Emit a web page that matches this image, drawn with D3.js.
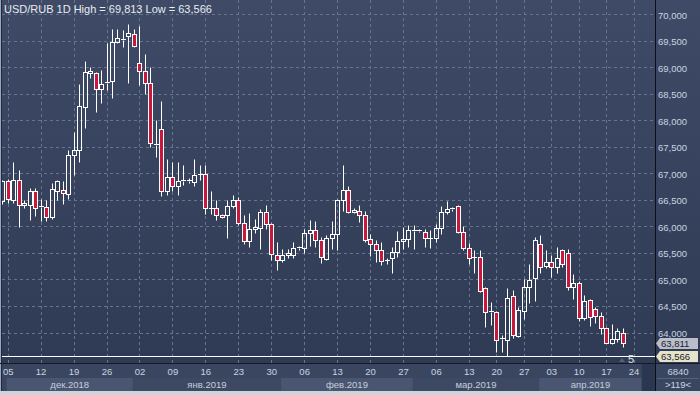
<!DOCTYPE html>
<html><head><meta charset="utf-8">
<script src="https://cdn.jsdelivr.net/npm/d3@7"></script>
<style>html,body{margin:0;padding:0;background:#3a4660;}svg{display:block;}</style>
</head><body>
<svg id="c" width="700" height="395"></svg>
<script>
// ---- data ----
const opens  = [66.48,66.85,66.50,66.87,66.40,66.40,66.66,66.36,66.36,66.18,66.66,66.68,66.61,67.35,67.44,68.26,68.89,68.89,68.59,68.70,68.75,69.47,69.52,69.60,69.63,69.09,68.93,68.70,67.55,67.84,66.66,66.93,66.76,66.85,66.86,66.83,66.98,66.98,66.34,66.34,66.21,66.22,66.39,66.50,66.06,65.73,65.96,65.97,66.27,66.04,65.47,65.37,65.46,65.47,65.60,65.60,65.87,65.93,65.74,65.38,65.79,65.85,66.50,66.69,66.27,66.30,66.22,65.76,65.66,65.55,65.36,65.40,65.52,65.72,65.76,65.92,65.92,65.89,65.78,65.78,65.97,66.28,66.33,66.39,65.90,65.59,65.42,65.43,64.83,64.39,64.38,63.88,63.86,64.69,63.93,64.41,64.85,65.02,65.67,65.26,65.32,65.24,65.56,65.49,64.85,64.93,64.27,64.61,64.44,64.31,64.08,63.81,63.87,64.00];
const highs  = [66.88,66.89,67.22,67.06,66.50,66.72,66.72,66.52,66.50,66.81,66.88,66.86,67.44,67.78,68.68,69.12,69.00,68.91,68.95,69.46,69.72,69.72,69.70,69.813,69.72,69.78,69.26,69.01,68.01,68.37,67.27,67.21,67.22,67.16,66.92,67.28,67.16,67.16,66.66,66.50,66.24,66.49,66.60,66.55,66.21,66.25,66.14,66.33,66.40,66.06,65.71,65.57,65.57,65.70,65.64,65.95,66.13,66.11,65.80,65.84,66.11,66.52,67.16,66.76,66.35,66.40,66.30,65.86,65.74,65.70,65.41,65.62,65.92,65.98,66.02,66.02,65.95,65.96,65.93,66.04,66.38,66.48,66.37,66.40,66.00,65.69,65.55,65.56,64.85,64.58,64.40,63.95,64.83,64.80,64.48,65.00,65.29,65.80,65.84,65.56,65.46,65.61,65.57,65.57,65.10,64.98,64.71,64.64,64.49,64.39,64.11,64.16,64.08,64.08];
const lows   = [66.42,66.45,66.45,65.98,66.35,66.12,66.20,66.10,66.10,66.14,66.50,66.42,66.52,66.97,67.22,67.85,68.79,68.16,68.32,68.57,68.42,69.45,69.39,68.70,69.39,68.67,68.50,67.49,67.30,66.58,66.59,66.66,66.59,66.78,66.81,66.76,66.87,66.23,66.24,66.12,66.15,65.78,66.34,66.03,65.67,65.62,65.87,65.58,65.96,65.37,65.18,65.33,65.41,65.40,65.55,65.50,65.64,65.62,65.31,65.36,65.57,65.56,66.30,66.26,66.26,66.08,65.71,65.45,65.33,65.28,65.30,65.13,65.42,65.58,65.61,65.58,65.89,65.61,65.60,65.71,65.85,66.23,66.30,65.88,65.55,65.30,65.13,64.77,64.11,64.15,63.64,63.64,63.566,63.89,63.92,64.25,64.56,64.60,65.13,65.21,65.04,65.12,65.23,64.81,64.63,64.22,64.24,64.13,64.17,63.97,63.80,63.78,63.83,63.73];
const closes = [66.86,66.51,66.87,66.40,66.44,66.67,66.35,66.38,66.18,66.70,66.85,66.63,67.35,67.44,68.27,68.91,68.93,68.60,68.68,68.72,69.47,69.55,69.54,69.64,69.41,68.94,68.70,67.57,67.53,66.66,66.93,66.76,66.86,66.87,66.87,66.97,66.99,66.34,66.35,66.22,66.18,66.39,66.50,66.06,65.73,65.96,65.99,66.27,66.04,65.48,65.37,65.46,65.49,65.59,65.61,65.87,65.93,65.74,65.42,65.79,65.85,66.50,66.69,66.28,66.31,66.21,65.74,65.66,65.55,65.35,65.37,65.52,65.72,65.76,65.93,65.94,65.93,65.78,65.79,65.97,66.28,66.33,66.34,65.90,65.60,65.40,65.43,64.79,64.39,64.40,63.85,63.89,64.65,63.95,64.42,64.85,64.99,65.74,65.23,65.32,65.23,65.40,65.29,64.85,64.93,64.27,64.60,64.29,64.31,64.08,63.81,63.87,64.02,63.811];

const dateLabels = ["05","12","19","26","02","09","16","23","30","06","13","20","27","06","13","20","27","03","10","17","24"];
const dateIndex  = [1,7,13,19,25,31,37,43,49,55,61,67,73,79,85,90,95,100,105,110,115];
const monthLabels = ["дек.2018","янв.2019","фев.2019","мар.2019","апр.2019"];
const monthStart  = [0.8,23.8,50.8,74.8,97.8];
const monthEnd    = 116.5;
const yTicks = [64,64.5,65,65.5,66,66.5,67,67.5,68,68.5,69,69.5,70];
const title = "USD/RUB 1D High = 69,813 Low = 63,566";
const highVal = 69.813, lowVal = 63.566, lastVal = 63.811;
const barCount = "6840", visibleBars = ">119<", markerText = "5";

// ---- layout ----
const W = 700, H = 395;
const plotL = 2, plotR = 655, plotB = 363;
const svg = d3.select("#c");
const x = d3.scaleLinear().domain([0, 113]).range([2.2, 2.2 + 113 * 5.49]);
const y = d3.scaleLinear().domain([64, 70]).range([332.5, 14.3]);
const fmt = v => d3.format(".3f")(v).replace(".", ",");
const font = "'Liberation Sans', Arial, sans-serif";

const defs = svg.append("defs");
const g1 = defs.append("linearGradient").attr("id","bg").attr("x1",0).attr("y1",0).attr("x2",0).attr("y2",1);
g1.append("stop").attr("offset","0%").attr("stop-color","#3f4b66");
g1.append("stop").attr("offset","100%").attr("stop-color","#2f3b55");
defs.append("clipPath").attr("id","pc").append("rect").attr("x",plotL).attr("y",0).attr("width",plotR-plotL).attr("height",plotB);

svg.append("rect").attr("width",W).attr("height",H).attr("fill","#3a4660");
svg.append("rect").attr("x",plotL).attr("y",0).attr("width",plotR-plotL).attr("height",plotB).attr("fill","url(#bg)");
svg.append("rect").attr("x",plotR+1).attr("y",0).attr("width",W-plotR-1).attr("height",plotB).attr("fill","url(#bg)");
// left border
svg.append("rect").attr("x",0).attr("y",0).attr("width",1).attr("height",391).attr("fill","#9aa7bb");
svg.append("rect").attr("x",1).attr("y",0).attr("width",1).attr("height",391).attr("fill","#1f2840");

const plot = svg.append("g").attr("clip-path","url(#pc)");
// grid
plot.selectAll("line.hg").data(yTicks).join("line")
  .attr("x1",plotL).attr("x2",plotR)
  .attr("y1",d=>Math.round(y(d))+0.5).attr("y2",d=>Math.round(y(d))+0.5)
  .attr("stroke","#66748f").attr("stroke-dasharray","3,3");
plot.selectAll("line.vg").data(dateIndex).join("line")
  .attr("x1",d=>Math.round(x(d))+0.5).attr("x2",d=>Math.round(x(d))+0.5)
  .attr("y1",0).attr("y2",plotB)
  .attr("stroke","#66748f").attr("stroke-dasharray","3,3");

// low line
plot.append("line").attr("x1",0).attr("x2",plotR)
  .attr("y1",Math.round(y(lowVal))+0.5).attr("y2",Math.round(y(lowVal))+0.5)
  .attr("stroke","#ffffff");

// candles
const candles = opens.map((o,i)=>({i,o,h:highs[i],l:lows[i],c:closes[i]}));
const cg = plot.append("g");
candles.forEach(d=>{
  const cx = Math.round(x(d.i));
  const top = Math.round(y(Math.max(d.o,d.c)))+0.5;
  const bot = Math.round(y(Math.min(d.o,d.c)))+0.5;
  const yh = Math.round(y(d.h))+0.5, yl = Math.round(y(d.l))+0.5;
  const wx = cx+0.5;
  if (yh < top) cg.append("line").attr("x1",wx).attr("x2",wx).attr("y1",yh).attr("y2",top).attr("stroke","#fff");
  if (yl > bot) cg.append("line").attr("x1",wx).attr("x2",wx).attr("y1",bot).attr("y2",yl).attr("stroke","#fff");
  if (bot - top < 1.5) {
    cg.append("line").attr("x1",cx-2).attr("x2",cx+3).attr("y1",top).attr("y2",top).attr("stroke","#fff");
  } else {
    cg.append("rect").attr("x",cx-1.5).attr("y",top).attr("width",4).attr("height",bot-top)
      .attr("fill", d.c < d.o ? "#c8193c" : "none").attr("stroke","#fff");
  }
});

// title
svg.append("text").attr("x",4).attr("y",12.5).text(title)
  .attr("font-family",font).attr("font-size",11).attr("fill","#e8ecf2");

// marker
svg.append("path").attr("d","M619,362 L622,358 L625,362 Z").attr("fill","#56627a");
svg.append("text").attr("x",631).attr("y",363).attr("text-anchor","middle").text(markerText)
  .attr("font-family",font).attr("font-size",11).attr("fill","#dde4ee");

// right axis
svg.append("line").attr("x1",plotR+0.5).attr("x2",plotR+0.5).attr("y1",0).attr("y2",H).attr("stroke","#0c0f18");
svg.selectAll("text.yl").data(yTicks.filter(v=>v>=64)).join("text")
  .attr("x",658).attr("y",d=>y(d)+4.5).text(fmt)
  .attr("font-family",font).attr("font-size",9.5).attr("fill","#c9d3e2");
// tags
function tag(v, fill){
  const cy = Math.round(y(v));
  svg.append("path").attr("d",`M656,${cy+0.5} L660,${cy-5} L698,${cy-5} L698,${cy+6} L660,${cy+6} Z`)
    .attr("fill",fill);
  svg.append("text").attr("x",661).attr("y",cy+4).text(fmt(v))
    .attr("font-family",font).attr("font-size",9.5).attr("fill","#1c2232");
}
tag(lastVal,"#b9bec8");
tag(lowVal,"#e5e3c9");

// bottom axis area
svg.append("line").attr("x1",0).attr("x2",W).attr("y1",plotB+0.5).attr("y2",plotB+0.5).attr("stroke","#141a28");
svg.append("rect").attr("x",2).attr("y",364).attr("width",plotR-2).attr("height",27).attr("fill","#3a4660");
monthLabels.forEach((m,k)=>{
  const a = x(monthStart[k]), b = x(k+1<monthStart.length?monthStart[k+1]:monthEnd);
  svg.append("rect").attr("x",a).attr("y",378).attr("width",b-a).attr("height",13)
    .attr("fill", k%2===0 ? "#4a5671" : "#3d4963");
  svg.append("text").attr("x",(a+b)/2).attr("y",388).attr("text-anchor","middle").text(m)
    .attr("font-family",font).attr("font-size",9.5).attr("fill","#c5cedb");
});
svg.append("rect").attr("x",x(monthEnd)).attr("y",364).attr("width",plotR-x(monthEnd)).attr("height",27).attr("fill","#2b3650");
svg.selectAll("text.xl").data(dateIndex).join("text")
  .attr("x",d=>x(d)+0.5).attr("y",375).attr("text-anchor","middle")
  .text((d,k)=>dateLabels[k])
  .attr("font-family",font).attr("font-size",9.5).attr("fill","#c9d3e2");
// right bottom panel
svg.append("text").attr("x",678).attr("y",375).attr("text-anchor","middle").text(barCount)
  .attr("font-family",font).attr("font-size",9.5).attr("fill","#c9d3e2");
svg.append("line").attr("x1",657).attr("x2",699).attr("y1",378.5).attr("y2",378.5).attr("stroke","#56627c");
svg.append("text").attr("x",678).attr("y",388).attr("text-anchor","middle").text(visibleBars)
  .attr("font-family",font).attr("font-size",9.5).attr("fill","#c9d3e2");
// bottom strip
svg.append("rect").attr("x",0).attr("y",391).attr("width",W).attr("height",4).attr("fill","#cfd4db");
</script>
</body></html>
